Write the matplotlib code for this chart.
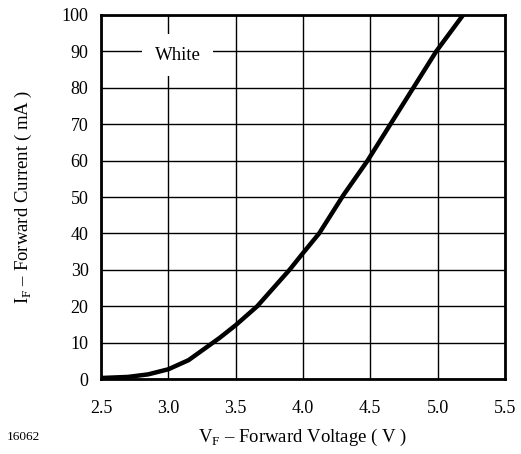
import matplotlib
matplotlib.use("Agg")
import matplotlib.pyplot as plt

plt.rcParams["font.family"] = ["Liberation Serif", "DejaVu Serif"]
plt.rcParams["mathtext.fontset"] = "custom"
plt.rcParams["mathtext.rm"] = "Liberation Serif"

# forward voltage (V) vs forward current (mA)
vf = [2.5, 2.7, 2.85, 3.0, 3.15, 3.38, 3.5, 3.66, 3.9, 4.0, 4.12, 4.3, 4.48, 4.65, 4.82, 4.99, 5.19]
i_f = [0.3, 0.6, 1.3, 2.7, 5.2, 11.3, 14.8, 20, 30, 34.6, 40, 50.5, 60, 70, 80, 90, 100]

x_ticks = [2.5, 3.0, 3.5, 4.0, 4.5, 5.0, 5.5]
y_ticks = [0, 10, 20, 30, 40, 50, 60, 70, 80, 90, 100]

fig = plt.figure(figsize=(5.21, 4.54), dpi=100)
ax = fig.add_axes([0.194, 0.165, 0.775, 0.802])

ax.plot(vf, i_f, color="black", lw=3.2, solid_capstyle="butt", zorder=3)

ax.set_xlim(2.5, 5.5)
ax.set_ylim(0, 100)
ax.set_xticks(x_ticks)
ax.set_xticklabels([f"{t:.1f}" for t in x_ticks])
ax.set_yticks(y_ticks)
ax.grid(True, color="black", lw=1.0)
ax.tick_params(length=0, labelsize=13)
ax.tick_params(axis="x", pad=15)
ax.tick_params(axis="y", pad=9)
for s in ax.spines.values():
    s.set_linewidth(2)

ax.set_xlabel(r"V$_\mathrm{F}$ – Forward Voltage ( V )", fontsize=13.5, labelpad=7)
ax.set_ylabel(r"I$_\mathrm{F}$ – Forward Current ( mA )", fontsize=13.5, labelpad=20)

ax.text(3.07, 89, "White", fontsize=13.5, ha="center", va="center", zorder=4,
        bbox=dict(facecolor="white", edgecolor="none", pad=9))

fig.text(0.013, 0.03, "16062", fontsize=9.5)

fig.savefig("out.png", dpi=100)
